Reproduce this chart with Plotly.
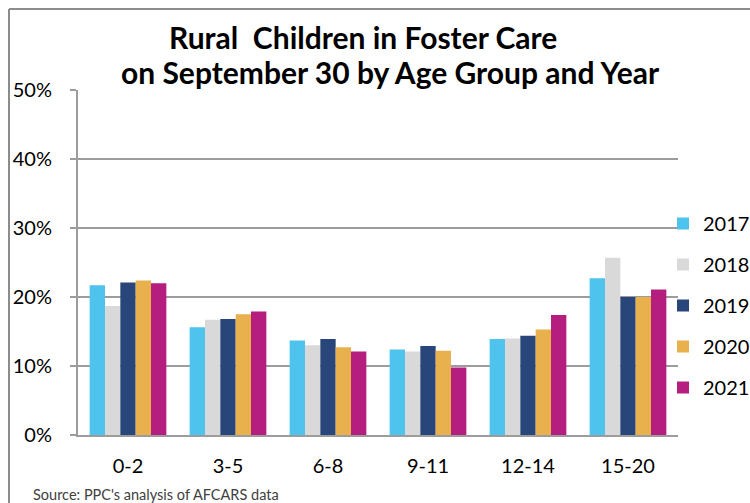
import plotly.graph_objects as go

age_groups = ["0-2", "3-5", "6-8", "9-11", "12-14", "15-20"]
years = ["2017", "2018", "2019", "2020", "2021"]
v2017 = [21.7, 15.6, 13.7, 12.4, 13.9, 22.7]
v2018 = [18.7, 16.7, 13.0, 12.1, 14.0, 25.7]
v2019 = [22.1, 16.8, 13.9, 12.9, 14.4, 20.0]
v2020 = [22.4, 17.5, 12.7, 12.2, 15.3, 20.0]
v2021 = [22.0, 17.9, 12.1, 9.8, 17.4, 21.1]
series = [v2017, v2018, v2019, v2020, v2021]
colors = ["#4DC3EE", "#D9D9D9", "#29467B", "#E9B04E", "#B51E7E"]
y_ticks = [0, 10, 20, 30, 40, 50]
y_tick_labels = ["0%", "10%", "20%", "30%", "40%", "50%"]

FONT = "Lato"
GRID = "#9C9C9C"

fig = go.Figure()
for yr, vals, col in zip(years, series, colors):
    fig.add_trace(go.Bar(
        x=age_groups, y=vals, name=yr, legendgroup=yr,
        marker=dict(color=col, line=dict(width=0)),
    ))

W, H = 750, 503
L, R, T, B = 78, 72, 90, 68
pw, ph = W - L - R, H - T - B

def px_x(x):
    return (x - L) / pw

def px_y(y):
    return (H - B - y) / ph

fig.update_layout(
    width=W, height=H,
    margin=dict(l=L, r=R, t=T, b=B, autoexpand=False),
    paper_bgcolor="white", plot_bgcolor="white",
    barmode="group", bargap=0.233, bargroupgap=0,
    font=dict(family=FONT, size=20, color="#000000"),
    showlegend=True,
    legend=dict(
        x=px_x(663), xanchor="left", y=px_y(204), yanchor="top",
        font=dict(family=FONT, size=20, color="#000000"),
        traceorder="grouped", tracegroupgap=12,
        bgcolor="rgba(0,0,0,0)", itemclick=False, borderwidth=0,
    ),
    xaxis=dict(
        showline=True, linecolor=GRID, linewidth=2,
        showgrid=False, ticks="", tickfont=dict(family=FONT, size=20),
        ticklabelstandoff=12,
    ),
    yaxis=dict(
        range=[0, 50], tickvals=y_ticks, ticktext=y_tick_labels,
        showgrid=True, gridcolor=GRID, gridwidth=2,
        showline=True, linecolor=GRID, linewidth=2,
        ticks="outside", ticklen=6, tickcolor=GRID, tickwidth=2,
        zeroline=False, tickfont=dict(family=FONT, size=20),
        ticklabelstandoff=14,
    ),
    annotations=[
        dict(text="<b>Rural  Children in Foster Care</b>", xref="paper", yref="paper",
             x=px_x(363), y=px_y(37), xanchor="center", yanchor="middle",
             showarrow=False, font=dict(family=FONT, size=30, color="#000000")),
        dict(text="<b>on September 30 by Age Group and Year</b>", xref="paper", yref="paper",
             x=px_x(390), y=px_y(72), xanchor="center", yanchor="middle",
             showarrow=False, font=dict(family=FONT, size=30, color="#000000")),
        dict(text="Source: PPC's analysis of AFCARS data", xref="paper", yref="paper",
             x=px_x(31), y=px_y(495), xanchor="left", yanchor="middle",
             showarrow=False, font=dict(family=FONT, size=14.5, color="#404040")),
    ],
    shapes=[
        dict(type="line", xref="paper", yref="paper", x0=px_x(9), x1=px_x(9),
             y0=px_y(9), y1=px_y(510), line=dict(color="#8C8C8C", width=2)),
        dict(type="line", xref="paper", yref="paper", x0=px_x(9), x1=px_x(760),
             y0=px_y(9), y1=px_y(9), line=dict(color="#8C8C8C", width=2)),
    ],
)

fig.write_html(
    "out.html",
    config={"displayModeBar": False},
    post_script="document.body.style.margin='0';document.body.style.overflow='hidden';",
)
